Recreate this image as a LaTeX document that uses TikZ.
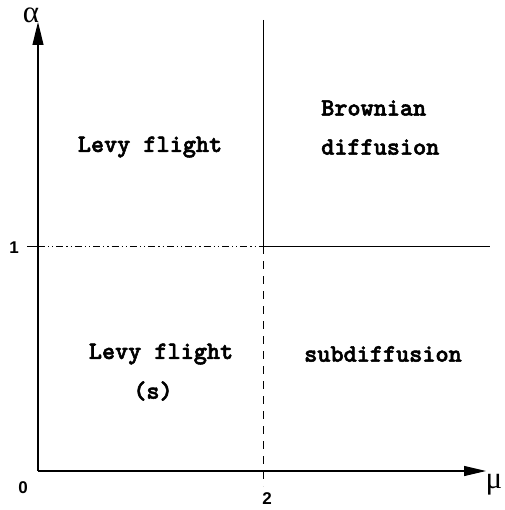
\documentclass[tikz,border=0pt]{standalone}
\usepackage{fontspec}
\setmainfont{Liberation Serif}
\newfontfamily\numfont{Liberation Sans}
\newfontfamily\regfont[FakeBold=2.2]{lmmonolt10-bold.otf}
\usetikzlibrary{arrows.meta}
\begin{document}
\begin{tikzpicture}[x=1pt,y=-1pt,
  axis/.style={line width=1.1pt},
  bord/.style={line width=0.9pt},
  region/.style={font=\regfont\fontsize{25}{28}\selectfont, inner sep=0pt},
  tick/.style={font=\numfont\bfseries\fontsize{17}{20}\selectfont, inner sep=0pt},
  greek/.style={font=\fontsize{31}{33}\selectfont, inner sep=0pt}]
\useasboundingbox (0,0) rectangle (504,510);
\coordinate (O) at (38,471);
\coordinate (ytop) at (38,22);
\coordinate (xend) at (486,471);
\coordinate (ytick) at (27,246);
\coordinate (mid) at (263,246);
\coordinate (vtop) at (263,20);
\coordinate (right) at (490,246);
\coordinate (vbot) at (263,486);
\draw[axis,-{Triangle[length=23pt,width=11pt]}] (O) -- (ytop);
\draw[axis,-{Triangle[length=22pt,width=10pt]}] (O) -- (xend);
\draw[bord] (vtop) -- (mid) -- (right);
\draw[bord, dash pattern=on 8pt off 7pt] (mid) -- (vbot);
\draw[bord] (ytick) -- (O |- mid);
\draw[bord, dash pattern=on 7pt off 3pt on 1.2pt off 3pt on 1.2pt off 3pt] (O |- mid) -- (mid);
\node[greek, anchor=base] (alpha) at (31,23) {α};
\node[greek, anchor=base] (mu) at (494,488) {μ};
\node[tick] (one) at (14,248) {1};
\node[tick] (zero) at (23,488) {0};
\node[tick] (two) at (267,499) {2};
\node[region] (lf1) at (150,147) {Levy flight};
\node[region, anchor=west] (br) at (321,108) {Brownian};
\node[region, anchor=west] (df) at (321,147) {diffusion};
\node[region] (lf2) at (161,354) {Levy flight};
\node[region] (s) at (153,391) {(s)};
\node[region] (sd) at (383,354) {subdiffusion};
\end{tikzpicture}
\end{document}
